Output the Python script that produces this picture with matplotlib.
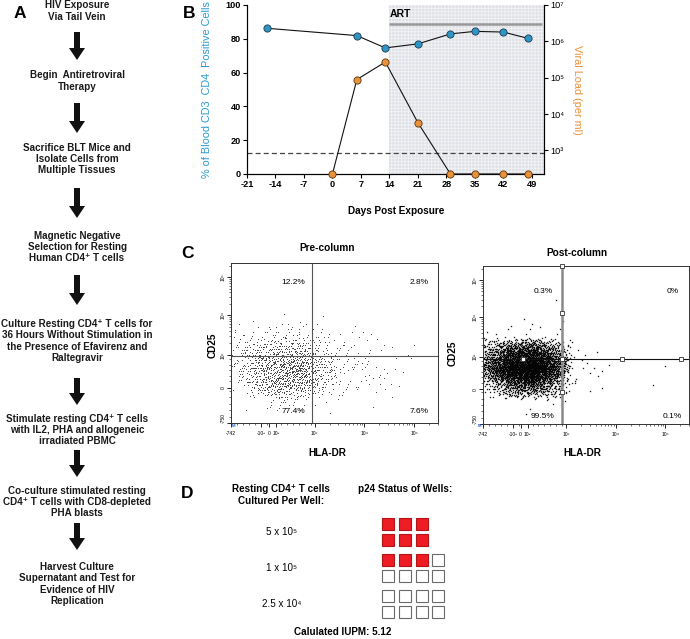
import numpy as np
import matplotlib
matplotlib.use('Agg')
import matplotlib.pyplot as plt
from matplotlib.patches import Rectangle

plt.rcParams['font.family'] = ['Liberation Sans', 'DejaVu Sans']
plt.rcParams['hatch.linewidth'] = 0.6

W, H = 690, 639

# ---------------- DATA ----------------
# Panel A: workflow steps
steps = [
    "HIV Exposure\nVia Tail Vein",
    "Begin  Antiretroviral\nTherapy",
    "Sacrifice BLT Mice and\nIsolate Cells from\nMultiple Tissues",
    "Magnetic Negative\nSelection for Resting\nHuman CD4\u207a T cells",
    "Culture Resting CD4\u207a T cells for\n36 Hours Without Stimulation in\nthe Presence of Efavirenz and\nRaltegravir",
    "Stimulate resting CD4\u207a T cells\nwith IL2, PHA and allogeneic\nirradiated PBMC",
    "Co-culture stimulated resting\nCD4\u207a T cells with CD8-depleted\nPHA blasts",
    "Harvest Culture\nSupernatant and Test for\nEvidence of HIV\nReplication",
]

# Panel B
days_cd4 = [-16, 6, 13, 21, 29, 35, 42, 48]
cd4_pct = [86.2, 81.9, 74.6, 77.0, 82.9, 84.4, 84.0, 80.3]
days_vl = [0, 6, 13, 21, 29, 35, 42, 48]
viral_load = [0, 8.9e4, 2.7e5, 5.8e3, 0, 0, 0, 0]
day_ticks = [-21, -14, -7, 0, 7, 14, 21, 28, 35, 42, 49]
art_start = 14
detection_limit = 870

# Panel C: flow dot-density grids (cell-centre densities; rows top->bottom, cols left->right)
pre_grid = [
    [0, 0, 0, 0, 0, 0, 0, 0, 0, 0],
    [0, 0, 0, 0, 0, 0, 0, 0, 0, 0],
    [0, 0, 0, 0, 0, 0, 0, 0, 0, 0],
    [0, 1, 3, 2, 1, 0, 0, 0, 0, 0],
    [6, 12, 16, 14, 9, 4, 3, 2, 1, 0],
    [30, 55, 70, 70, 40, 10, 7, 5, 2, 0],
    [30, 90, 130, 130, 60, 14, 10, 6, 3, 0],
    [14, 70, 130, 120, 40, 12, 8, 5, 2, 0],
    [1, 8, 18, 15, 5, 3, 1, 1, 0, 0],
    [0, 0, 0, 0, 0, 0, 0, 0, 0, 0],
]
post_grid = [
    [0, 0, 0, 0, 0, 0, 0, 0, 0, 0],
    [0, 0, 0, 0, 0, 0, 0, 0, 0, 0],
    [0, 0, 1, 1, 0, 0, 0, 0, 0, 0],
    [0, 1, 2, 1, 0, 0, 0, 0, 0, 0],
    [2, 4, 6, 3, 1, 0, 0, 0, 0, 0],
    [150, 340, 400, 200, 4, 2, 1, 0, 0, 0],
    [280, 640, 760, 380, 8, 3, 2, 0, 1, 0],
    [60, 200, 260, 130, 3, 2, 0, 0, 1, 0],
    [0, 1, 3, 2, 0, 0, 0, 0, 0, 0],
    [0, 0, 0, 0, 0, 0, 0, 0, 0, 0],
]
pre_quadrants = ['12.2%', '2.8%', '77.4%', '7.6%']
post_quadrants = ['0.3%', '0%', '99.5%', '0.1%']

# Panel D
cells_per_well = ['5 x 10\u2075', '1 x 10\u2075', '2.5 x 10\u2074']
wells_total = [6, 8, 8]
wells_positive = [6, 3, 0]
wells_per_row = [3, 4, 4]
iupm = 5.12

# ---------------- FIGURE ----------------
fig = plt.figure(figsize=(W / 100, H / 100), dpi=100)


def px_rect(l, t, r, b):
    return [l / W, 1 - b / H, (r - l) / W, (b - t) / H]


ov = fig.add_axes([0, 0, 1, 1], zorder=10)
ov.set_xlim(0, W)
ov.set_ylim(H, 0)
ov.axis('off')

# Panel letters
for letter, (lx, ly) in zip('ABCD', [(20, 14), (189, 14), (188, 253), (187, 493)]):
    ov.text(lx, ly, letter, fontsize=12.5, fontweight='bold', ha='center', va='center')

# ---- Panel A ----
text_y = [11, 81, 159, 247, 341, 430, 502, 584]
arrow_spans = [(32, 60), (103, 133), (188, 218), (275, 305), (378, 405), (450, 477), (523, 550)]
for s, y in zip(steps, text_y):
    ov.text(77, y, s, fontsize=7.1, fontweight='bold', ha='center', va='center',
            linespacing=1.15, color='#1a1a1a')
for y0, y1 in arrow_spans:
    ov.arrow(77, y0, 0, y1 - y0, width=6, head_width=16, head_length=12,
             length_includes_head=True, color='#111111', lw=0)

# ---- Panel B ----
axB = fig.add_axes(px_rect(247, 5, 544, 174))
axB.set_xlim(-21, 52)
axB.set_ylim(0, 100)
axB.axvspan(art_start, 52, facecolor='#dfe1e6', hatch='+++++', edgecolor='#f2f3f5', lw=0, zorder=0)
axB.plot(days_cd4, cd4_pct, '-', color='#111111', lw=0.8, marker='o', ms=5.2,
         mfc='#2f95c4', mec='#1d3b52', mew=0.6, zorder=5, clip_on=False)
axB.plot([art_start, 51.5], [88.8, 88.8], color='#999999', lw=1.8, solid_capstyle='butt', zorder=3)
axB.text(art_start + 0.2, 92, 'ART', fontsize=7.5, fontweight='bold', ha='left', va='bottom')
axB.set_xticks(day_ticks)
axB.set_xticklabels([str(d) for d in day_ticks], fontsize=6.6, fontweight='bold')
axB.set_yticks([0, 20, 40, 60, 80, 100])
axB.set_yticklabels(['0', '20', '40', '60', '80', '100'], fontsize=6.6, fontweight='bold')
axB.tick_params(length=3, width=0.8, pad=1.5)
axB.spines['top'].set_visible(False)
for sp in ['left', 'bottom', 'right']:
    axB.spines[sp].set_linewidth(0.8)

axR = axB.twinx()
axR.set_yscale('log')
vl_bottom = 224
axR.set_ylim(vl_bottom, 1e7)
axR.axhline(detection_limit, color='#444444', lw=0.9, ls=(0, (4, 2.5)), zorder=2)
vl_plot = [v if v > 0 else vl_bottom for v in viral_load]
axR.plot(days_vl, vl_plot, '-', color='#111111', lw=0.8, marker='o', ms=5.2,
         mfc='#e8923a', mec='#5a3410', mew=0.6, zorder=5, clip_on=False)
axR.set_yticks([1e3, 1e4, 1e5, 1e6, 1e7])
axR.set_yticklabels(['10\u00b3', '10\u2074', '10\u2075', '10\u2076', '10\u2077'], fontsize=6.6)
axR.minorticks_off()
axR.tick_params(length=3, width=0.8, pad=1.5)
axR.spines['top'].set_visible(False)
axR.spines['right'].set_linewidth(0.8)

ov.text(207, 90, '% of Blood CD3  CD4  Positive Cells', rotation=90, fontsize=7.8,
        color='#2a9ad0', ha='center', va='center')
ov.text(577, 90, 'Viral Load (per ml)', rotation=270, fontsize=7.8,
        color='#e8903a', ha='center', va='center')
ov.text(396, 211, 'Days Post Exposure', fontsize=7.2, fontweight='bold', ha='center', va='center')


# ---- Panel C ----
def grid_dots(grid):
    """Dot-density rendering of a grid: each cell's dots are laid out with a
    low-discrepancy (R4) sequence through a tent kernel one cell wide."""
    g = np.asarray(grid)
    nrow, ncol = g.shape
    phi = 1.1673039782614187
    a = [1 / phi ** i for i in range(1, 5)]
    xs, ys = [], []
    k0 = 0
    for r in range(nrow):
        for c in range(ncol):
            n = int(g[r, c])
            if n == 0:
                continue
            k = np.arange(k0 + 1, k0 + n + 1)
            k0 += n
            u1, u2, v1, v2 = [(0.5 + ai * k) % 1 for ai in a]
            cx = (c + 0.5) / ncol
            cy = 1 - (r + 0.5) / nrow
            xs.append(cx + (u1 + u2 - 1) / ncol)
            ys.append(cy + (v1 + v2 - 1) / nrow)
    return np.concatenate(xs), np.concatenate(ys)


def flow_axis_ticks(ax):
    xmaj = [0, 0.15, 0.19, 0.225, 0.42, 0.67, 0.92]
    xlab = ['-742', '-10\u00b2', '0', '10\u00b2', '10\u00b3', '10\u2074', '10\u2075']
    ymaj = [0, 0.22, 0.425, 0.675, 0.91]
    ylab = ['-750', '0', '10\u00b3', '10\u2074', '10\u2075']
    ax.set_xticks(xmaj)
    ax.set_xticklabels(xlab, fontsize=3.6)
    ax.set_yticks(ymaj)
    ax.set_yticklabels(ylab, fontsize=3.6, rotation=90, va='center')
    ax.get_yticklabels()[0].set_va('bottom')
    minors_x = list(np.linspace(0.03, 0.18, 6)) + list(np.linspace(0.25, 0.40, 6))
    minors_y = list(np.linspace(0.04, 0.2, 5)) + list(np.linspace(0.26, 0.40, 5))
    for lo, hi in [(0.42, 0.67), (0.67, 0.92)]:
        minors_x += [lo + np.log10(m) * (hi - lo) for m in range(2, 10)]
    for lo, hi in [(0.425, 0.675), (0.675, 0.91)]:
        minors_y += [lo + np.log10(m) * (hi - lo) for m in range(2, 10)]
    minors_x += [0.92 + np.log10(m) * 0.25 for m in range(2, 4)]
    minors_y += [0.91 + np.log10(m) * 0.235 for m in range(2, 3)]
    ax.set_xticks(minors_x, minor=True)
    ax.set_yticks(minors_y, minor=True)
    ax.tick_params(which='major', length=3, width=0.6, pad=1)
    ax.tick_params(axis='x', which='major', pad=3)
    ax.tick_params(which='minor', length=1.6, width=0.4)
    for sp in ax.spines.values():
        sp.set_linewidth(0.7)
        sp.set_color('#333333')


def quadrant_labels(ax, labels, xl, xr, yt, yb):
    pos = [(xl, yt), (xr, yt), (xl, yb), (xr, yb)]
    for lab, (x, y) in zip(labels, pos):
        ax.text(x, y, lab, fontsize=6, ha='center', va='center', transform=ax.transAxes, zorder=8)


# Pre-column
axC1 = fig.add_axes(px_rect(231, 263, 438, 423))
axC1.set_xlim(0, 1)
axC1.set_ylim(0, 1)
x, y = grid_dots(pre_grid)
axC1.plot(x, y, ls='none', marker='s', ms=0.65, mew=0, color='#3a3a3a', alpha=0.85)
axC1.axvline(0.406, color='#555555', lw=0.8)
axC1.axhline(0.42, color='#555555', lw=0.8)
quadrant_labels(axC1, pre_quadrants, 0.30, 0.91, 0.875, 0.07)
flow_axis_ticks(axC1)
ov.text(327, 248, 'Pre-column', fontsize=7.3, fontweight='bold', ha='center', va='center')
ov.text(213, 345, 'CD25', rotation=90, fontsize=7.2, fontweight='bold', ha='center', va='center')
ov.text(327, 453, 'HLA-DR', fontsize=7.2, fontweight='bold', ha='center', va='center')
ov.text(233, 426, 'M', fontsize=3.2, fontweight='bold', color='#2d5fc0', ha='center', va='center')

# Post-column
axC2 = fig.add_axes(px_rect(483, 266, 689, 424))
axC2.set_xlim(0, 1)
axC2.set_ylim(0, 1)
x, y = grid_dots(post_grid)
axC2.plot(x, y, ls='none', marker='s', ms=0.95, mew=0, color='#050505', alpha=0.9)
axC2.axvline(0.40, color='#8a8a8a', lw=1.8)
axC2.axhline(0.41, color='#111111', lw=0.8)
handles = [(0.40, 1.0), (0.40, 0.70), (0.40, 0.41), (0.40, 0.20), (0.20, 0.41), (0.70, 0.41), (1.0, 0.41)]
axC2.plot([h[0] for h in handles], [h[1] for h in handles], ls='none', marker='s', ms=3.2,
          mfc='white', mec='#333333', mew=0.6, clip_on=False, zorder=6)
quadrant_labels(axC2, post_quadrants, 0.29, 0.92, 0.84, 0.045)
flow_axis_ticks(axC2)
ov.text(577, 253, 'Post-column', fontsize=7.3, fontweight='bold', ha='center', va='center')
ov.text(453, 353, 'CD25', rotation=90, fontsize=7.2, fontweight='bold', ha='center', va='center')
ov.text(582, 453, 'HLA-DR', fontsize=7.2, fontweight='bold', ha='center', va='center')
ov.text(479, 426, 'M', fontsize=3.2, fontweight='bold', color='#2d5fc0', ha='center', va='center')

# ---- Panel D ----
ov.text(281, 495, 'Resting CD4\u207a T cells\nCultured Per Well:', fontsize=7.1, fontweight='bold',
        ha='center', va='center', linespacing=1.15)
ov.text(405, 489, 'p24 Status of Wells:', fontsize=7.1, fontweight='bold', ha='center', va='center')
sq = 12
col_pitch = 16.7
row_pitch = 15.7
group_pitch = 36
x0, y0 = 382.3, 518.3
for gi, (lab, tot, pos, per) in enumerate(zip(cells_per_well, wells_total, wells_positive, wells_per_row)):
    gy = y0 + gi * group_pitch
    ov.text(282, gy + (sq + row_pitch) / 2, lab, fontsize=7.1, ha='center', va='center')
    for w in range(tot):
        r, c = divmod(w, per)
        positive = w < pos
        rect = Rectangle((x0 + c * col_pitch, gy + r * row_pitch), sq, sq,
                         facecolor='#ee1c24' if positive else 'white',
                         edgecolor='#b31515' if positive else '#6a6a6a', lw=0.8)
        ov.add_patch(rect)
ov.text(343, 632, f'Calulated IUPM: {iupm:.2f}', fontsize=7.1, fontweight='bold', ha='center', va='center')

fig.savefig('out.png', dpi=100)
